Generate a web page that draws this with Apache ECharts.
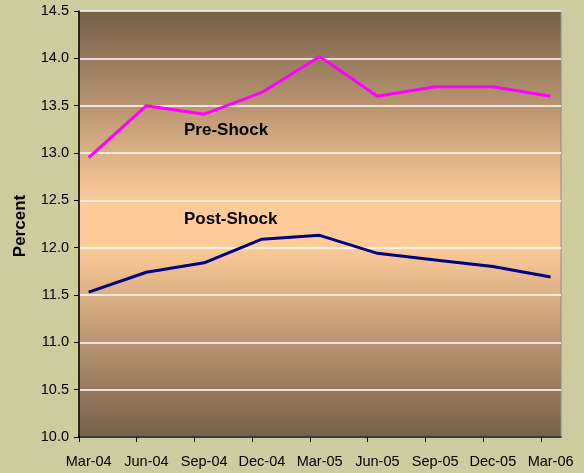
<!DOCTYPE html>
<html>
<head>
<meta charset="utf-8">
<script src="https://cdn.jsdelivr.net/npm/echarts@6/dist/echarts.min.js"></script>
<style>
html,body{margin:0;padding:0;background:#CCCC9E;}
#c{width:584px;height:473px;}
</style>
</head>
<body>
<div id="c"></div>
<script>
var categories = ['Mar-04','Jun-04','Sep-04','Dec-04','Mar-05','Jun-05','Sep-05','Dec-05','Mar-06'];
var preShock = [12.95, 13.50, 13.41, 13.64, 14.02, 13.60, 13.70, 13.70, 13.60];
var postShock = [11.53, 11.74, 11.84, 12.09, 12.13, 11.94, 11.87, 11.80, 11.69];
var yTicks = [10.0, 10.5, 11.0, 11.5, 12.0, 12.5, 13.0, 13.5, 14.0, 14.5];

var FONT = '"Liberation Sans", Arial, sans-serif';
var catIdx = categories.map(function(c, i){ return i; });
var tickPos = categories.map(function(c, i){ return i - 0.168; });

function pairs(vals){ return vals.map(function(v, i){ return [i, v]; }); }

var chart = echarts.init(document.getElementById('c'), null, {renderer:'canvas'});
chart.setOption({
  backgroundColor: '#CCCC9E',
  animation: false,
  grid: {
    left: 79, right: 23, top: 11, bottom: 36,
    show: true,
    borderColor: '#8C8C8C',
    borderWidth: 1,
    backgroundColor: {
      type: 'linear', x: 0, y: 0, x2: 0, y2: 1,
      colorStops: [
        {offset: 0, color: '#745F49'},
        {offset: 0.45, color: '#FFCC99'},
        {offset: 0.55, color: '#FFCC99'},
        {offset: 1, color: '#745F49'}
      ]
    }
  },
  xAxis: {
    type: 'value',
    min: -0.168,
    max: 8.18,
    axisLine: {show: true, onZero: false, lineStyle: {color: '#000', width: 1.5}},
    axisTick: {show: true, customValues: tickPos, length: 5, inside: false, lineStyle: {color: '#000', width: 1}},
    axisLabel: {
      show: true,
      customValues: catIdx,
      margin: 17,
      color: '#000',
      fontFamily: FONT,
      fontSize: 14.5,
      formatter: function(v){ return categories[Math.round(v)]; }
    },
    splitLine: {show: false}
  },
  yAxis: {
    type: 'value',
    min: yTicks[0],
    max: yTicks[yTicks.length - 1],
    interval: 0.5,
    axisLine: {show: true, onZero: false, lineStyle: {color: '#000', width: 1.5}},
    axisTick: {show: true, length: 5, lineStyle: {color: '#000', width: 1}},
    axisLabel: {
      margin: 10,
      color: '#000',
      fontFamily: FONT,
      fontSize: 14.5,
      formatter: function(v){ return v.toFixed(1); }
    },
    splitLine: {show: true, lineStyle: {color: '#FFFFFF', width: 1.5}}
  },
  series: [
    {
      name: 'Pre-Shock',
      type: 'line',
      data: pairs(preShock),
      symbol: 'none',
      lineStyle: {color: '#FF00FF', width: 3},
      itemStyle: {color: '#FF00FF'},
      z: 3
    },
    {
      name: 'Post-Shock',
      type: 'line',
      data: pairs(postShock),
      symbol: 'none',
      lineStyle: {color: '#000080', width: 3},
      itemStyle: {color: '#000080'},
      z: 3
    }
  ],
  graphic: [
    {
      type: 'text', left: 184, top: 122,
      style: {text: 'Pre-Shock', font: 'bold 17px ' + FONT, fill: '#000'}
    },
    {
      type: 'text', left: 184, top: 211,
      style: {text: 'Post-Shock', font: 'bold 17px ' + FONT, fill: '#000'}
    },
    {
      type: 'text', x: 20, y: 226, rotation: Math.PI / 2,
      style: {text: 'Percent', font: 'bold 17px ' + FONT, fill: '#000', align: 'center', verticalAlign: 'middle'}
    }
  ]
});
</script>
</body>
</html>
